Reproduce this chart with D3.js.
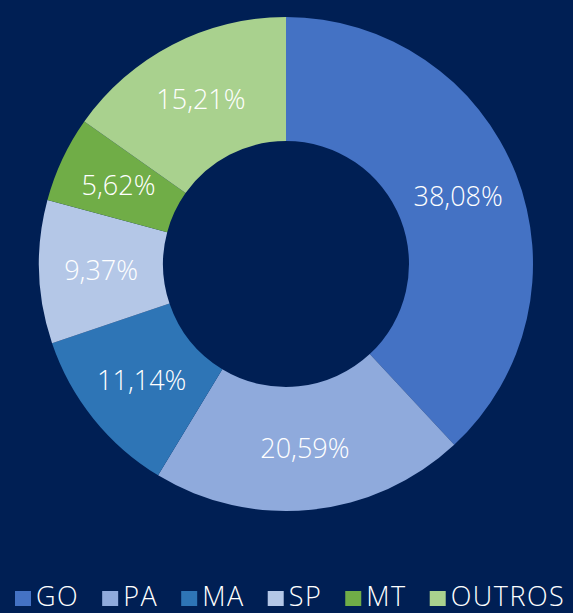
<!DOCTYPE html>
<html>
<head>
<meta charset="utf-8">
<script src="https://cdn.jsdelivr.net/npm/d3@7"></script>
<style>
html,body{margin:0;padding:0;background:#001F54;}
svg{display:block;}
</style>
</head>
<body>
<svg id="chart" width="573" height="613"></svg>
<script>
const categories = ["GO", "PA", "MA", "SP", "MT", "OUTROS"];
const values = [38.08, 20.59, 11.14, 9.37, 5.62, 15.21];
const colors = ["#4472C4", "#8FAADC", "#2E75B6", "#B4C7E7", "#70AD47", "#A9D18E"];

const W = 573, H = 613;
const cx = 286, cy = 264, outerR = 247, innerR = 123;
const font = "'Open Sans', 'Segoe UI', sans-serif";

const svg = d3.select("#chart");
svg.append("rect").attr("width", W).attr("height", H).attr("fill", "#001F54");

const data = categories.map((c, i) => ({cat: c, value: values[i]}));
const pie = d3.pie().value(d => d.value).sort(null);
const arc = d3.arc().innerRadius(innerR).outerRadius(outerR);
const color = d3.scaleOrdinal().domain(categories).range(colors);

const g = svg.append("g").attr("transform", `translate(${cx},${cy})`);
const arcs = pie(data);
g.selectAll("path").data(arcs).join("path")
  .attr("d", arc)
  .attr("fill", d => color(d.data.cat));

const fmt = v => v.toFixed(2).replace(".", ",") + "%";
g.selectAll("text.lbl").data(arcs).join("text")
  .attr("class", "lbl")
  .attr("transform", d => `translate(${arc.centroid(d)})`)
  .attr("text-anchor", "middle")
  .attr("dy", "0.36em")
  .attr("fill", "#ffffff")
  .style("font-family", font)
  .style("font-weight", 300)
  .style("font-size", "27px")
  .text(d => fmt(d.data.value));

// Legend
const legend = svg.append("g").attr("transform", "translate(15,0)");
let x = 0;
categories.forEach((c, i) => {
  const item = legend.append("g").attr("transform", `translate(${x},0)`);
  item.append("rect").attr("x", 0).attr("y", 591).attr("width", 16).attr("height", 15)
    .attr("fill", color(c));
  const t = item.append("text").attr("x", 21).attr("y", 606)
    .attr("fill", "#ffffff")
    .style("font-family", font)
    .style("font-weight", 300)
    .style("font-size", "27px")
    .style("letter-spacing", "1.5px")
    .text(c);
  const w = t.node().getComputedTextLength();
  x += 21 + w + 23;
});
</script>
</body>
</html>
